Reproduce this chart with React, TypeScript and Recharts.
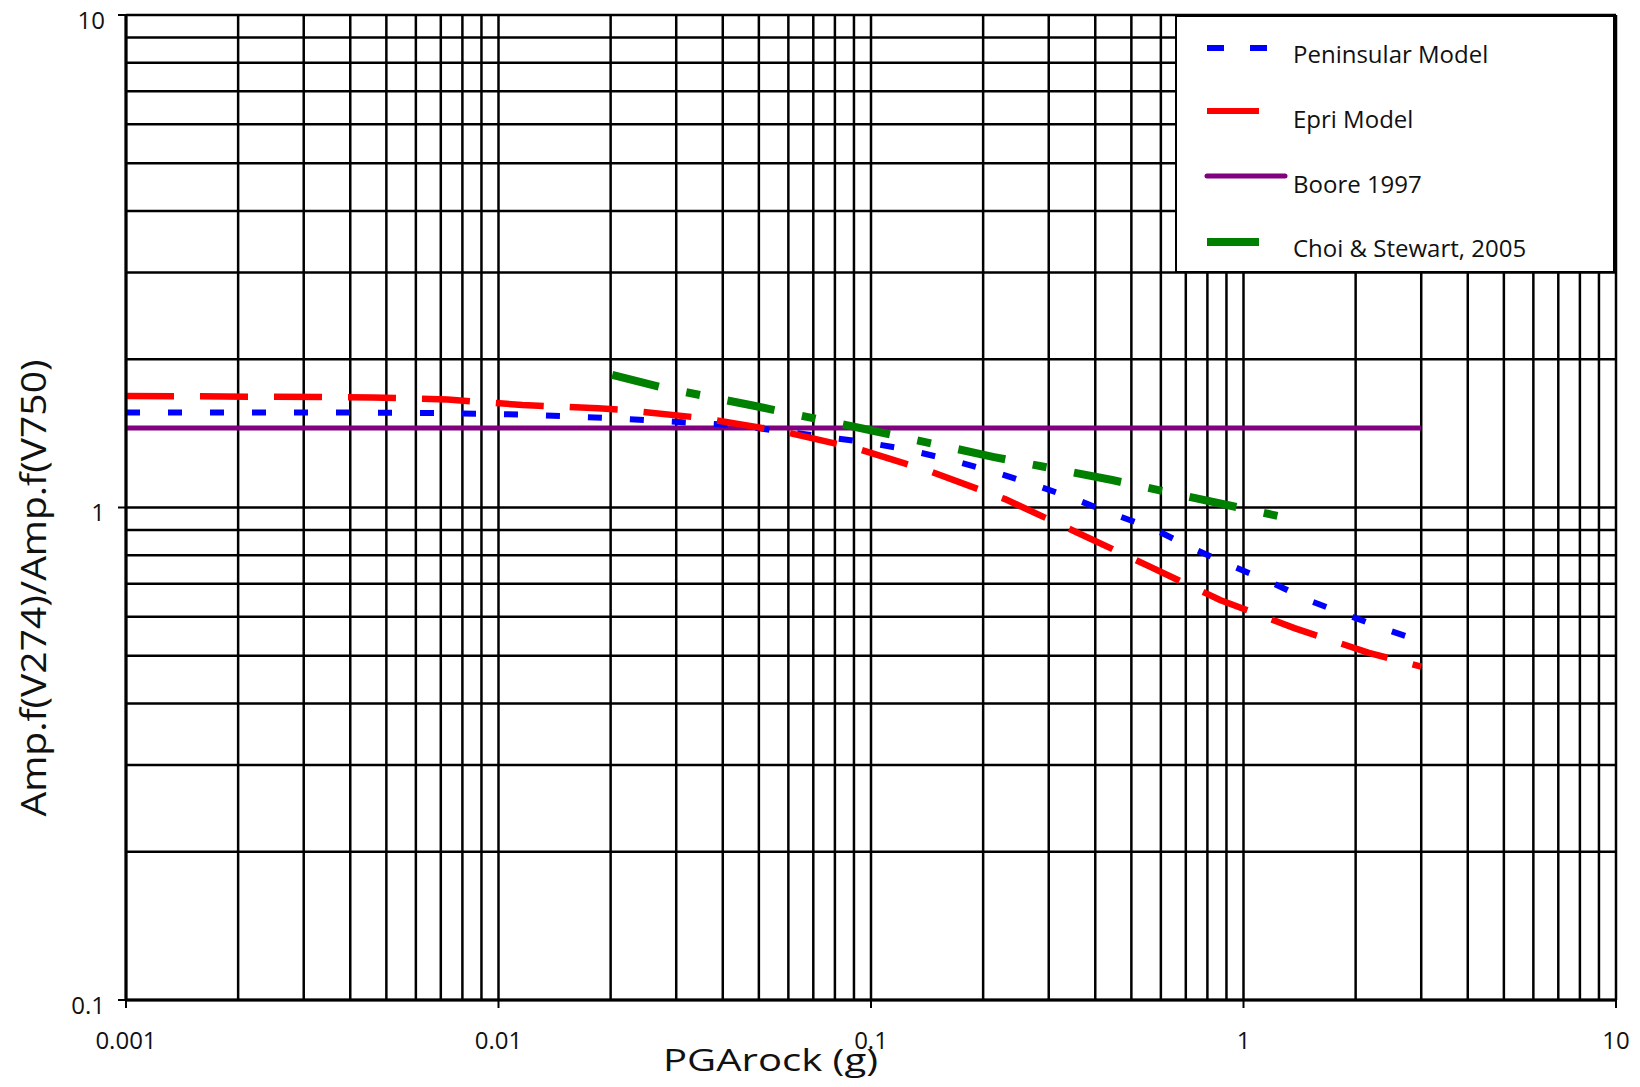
import React from 'react';
import { LineChart, Line, XAxis, YAxis, CartesianGrid, Legend } from 'recharts';

// ---- Data (PGA rock in g vs amplification ratio) ----
const peninsularX = [0.001, 0.003, 0.007, 0.0115, 0.0194, 0.043, 0.0946, 0.123, 0.16, 0.207, 0.267, 0.342, 0.438, 0.567, 0.718, 0.92, 1.18, 1.49, 1.9, 2.44, 3.0];
const peninsularY = [1.56, 1.56, 1.555, 1.545, 1.52, 1.47, 1.36, 1.315, 1.254, 1.19, 1.12, 1.05, 0.975, 0.909, 0.831, 0.764, 0.706, 0.649, 0.605, 0.564, 0.535];

const epriX = [0.001, 0.0046, 0.0073, 0.0116, 0.0185, 0.0217, 0.0351, 0.0573, 0.0916, 0.146, 0.229, 0.355, 0.555, 0.865, 1.37, 2.17, 3.0];
const epriY = [1.685, 1.673, 1.656, 1.615, 1.59, 1.578, 1.52, 1.43, 1.318, 1.18, 1.04, 0.892, 0.761, 0.649, 0.569, 0.507, 0.475];

const booreX = [0.001, 3.0];
const booreY = [1.45, 1.45];

const choiX = [0.0202, 0.0271, 0.0489, 0.102, 0.214, 0.444, 0.931, 1.39];
const choiY = [1.858, 1.757, 1.607, 1.43, 1.266, 1.137, 1.007, 0.943];

const seriesNames = ['Peninsular Model', 'Epri Model', 'Boore 1997', 'Choi & Stewart, 2005'];

const xTicks = [0.001, 0.01, 0.1, 1, 10];
const yTicks = [0.1, 1, 10];
const xTickLabels = ['0.001', '0.01', '0.1', '1', '10'];
const yTickLabels = ['0.1', '1', '10'];

const xGridValues = [
  0.001, 0.002, 0.003, 0.004, 0.005, 0.006, 0.007, 0.008, 0.009,
  0.01, 0.02, 0.03, 0.04, 0.05, 0.06, 0.07, 0.08, 0.09,
  0.1, 0.2, 0.3, 0.4, 0.5, 0.6, 0.7, 0.8, 0.9,
  1, 2, 3, 4, 5, 6, 7, 8, 9, 10,
];
const yGridValues = [
  0.1, 0.2, 0.3, 0.4, 0.5, 0.6, 0.7, 0.8, 0.9,
  1, 2, 3, 4, 5, 6, 7, 8, 9, 10,
];

const toPoints = (xs: number[], ys: number[]) => xs.map((x, i) => ({ x, y: ys[i] }));

const peninsularData = toPoints(peninsularX, peninsularY);
const epriData = toPoints(epriX, epriY);
const booreData = toPoints(booreX, booreY);
const choiData = toPoints(choiX, choiY);

const FONT = '"Open Sans", "Noto Sans", sans-serif';

const legendRows = [
  { name: seriesNames[0], color: '#0000FF', width: 6, dash: '17 26', x2: 60, cap: 'butt' as const },
  { name: seriesNames[1], color: '#FF0000', width: 6, dash: undefined, x2: 52, cap: 'butt' as const },
  { name: seriesNames[2], color: '#800080', width: 5, dash: undefined, x2: 78, cap: 'round' as const },
  { name: seriesNames[3], color: '#008000', width: 8, dash: undefined, x2: 52, cap: 'butt' as const },
];
const legendLineY = [33, 96, 161, 227];
const legendTextY = [38, 103, 168, 232];

const renderLegend = () => (
  <div
    style={{
      position: 'relative',
      width: 440,
      height: 258,
      boxSizing: 'border-box',
      background: '#fff',
      border: '2.5px solid #000',
    }}
  >
    <svg width={440} height={258} style={{ position: 'absolute', left: -2.5, top: -2.5 }}>
      {legendRows.map((r, i) => (
        <g key={r.name}>
          <line
            x1={32}
            x2={32 + r.x2}
            y1={legendLineY[i]}
            y2={legendLineY[i]}
            stroke={r.color}
            strokeWidth={r.width}
            strokeDasharray={r.dash}
            strokeLinecap={r.cap}
          />
          <text
            x={118}
            y={legendTextY[i]}
            dominantBaseline="central"
            fontFamily={FONT}
            fontSize={24}
            fill="#111"
          >
            {r.name}
          </text>
        </g>
      ))}
    </svg>
  </div>
);

const YTick = (props: any) => {
  const { x, y, payload } = props;
  const label = yTickLabels[yTicks.indexOf(payload.value)] ?? String(payload.value);
  return (
    <text
      x={x}
      y={y + 4}
      textAnchor="end"
      dominantBaseline="central"
      fontFamily={FONT}
      fontSize={24}
      fill="#111"
    >
      {label}
    </text>
  );
};

export default function App() {
  return (
    <div style={{ position: 'absolute', left: 0, top: 0, width: 1640, height: 1087, background: '#fff' }}>
      <LineChart
        width={1640}
        height={1087}
        margin={{ top: 15, right: 24, bottom: 0, left: 0 }}
      >
        <CartesianGrid
          stroke="#000"
          strokeWidth={2.5}
          horizontalValues={yGridValues}
          verticalValues={xGridValues}
        />
        <XAxis
          type="number"
          dataKey="x"
          scale="log"
          domain={[0.001, 10]}
          allowDataOverflow
          ticks={xTicks}
          tickFormatter={(v: number) => xTickLabels[xTicks.indexOf(v)] ?? String(v)}
          height={87}
          tickSize={8}
          tickMargin={24}
          axisLine={{ stroke: '#000', strokeWidth: 3 }}
          tickLine={{ stroke: '#000', strokeWidth: 2 }}
          tick={{ fontSize: 24, fill: '#111', fontFamily: FONT }}
          interval={0}
        />
        <YAxis
          type="number"
          dataKey="y"
          scale="log"
          domain={[0.1, 10]}
          allowDataOverflow
          ticks={yTicks}
          width={126}
          tickSize={8}
          tickMargin={13}
          axisLine={{ stroke: '#000', strokeWidth: 3 }}
          tickLine={{ stroke: '#000', strokeWidth: 2 }}
          tick={<YTick />}
          interval={0}
        />
        <Line
          data={booreData}
          dataKey="y"
          name={seriesNames[2]}
          stroke="#800080"
          strokeWidth={5}
          dot={false}
          activeDot={false}
          isAnimationActive={false}
          type="linear"
        />
        <Line
          data={peninsularData}
          dataKey="y"
          name={seriesNames[0]}
          stroke="#0000FF"
          strokeWidth={6}
          strokeDasharray="14 28"
          dot={false}
          activeDot={false}
          isAnimationActive={false}
          type="linear"
        />
        <Line
          data={epriData}
          dataKey="y"
          name={seriesNames[1]}
          stroke="#FF0000"
          strokeWidth={6.5}
          strokeDasharray="48 26"
          dot={false}
          activeDot={false}
          isAnimationActive={false}
          type="linear"
        />
        <Line
          data={choiData}
          dataKey="y"
          name={seriesNames[3]}
          stroke="#008000"
          strokeWidth={8}
          strokeDasharray="48 28 14 28"
          dot={false}
          activeDot={false}
          isAnimationActive={false}
          type="linear"
        />
        <Legend
          layout="vertical"
          align="center"
          verticalAlign="middle"
          content={renderLegend}
          wrapperStyle={{ left: 1175, top: 15, width: 440, height: 258, right: 'auto', bottom: 'auto' }}
        />
      </LineChart>
      <svg
        width={1640}
        height={1087}
        style={{ position: 'absolute', left: 0, top: 0, pointerEvents: 'none' }}
      >
        <text
          x={663}
          y={1071}
          fontFamily={FONT}
          fontSize={31}
          fill="#111"
          textLength={215}
          lengthAdjust="spacingAndGlyphs"
        >
          PGArock (g)
        </text>
        <text
          transform="translate(46, 588) rotate(-90)"
          x={0}
          y={0}
          textAnchor="middle"
          fontFamily={FONT}
          fontSize={35}
          fill="#111"
          textLength={457}
          lengthAdjust="spacingAndGlyphs"
        >
          Amp.f(V274)/Amp.f(V750)
        </text>
      </svg>
    </div>
  );
}
